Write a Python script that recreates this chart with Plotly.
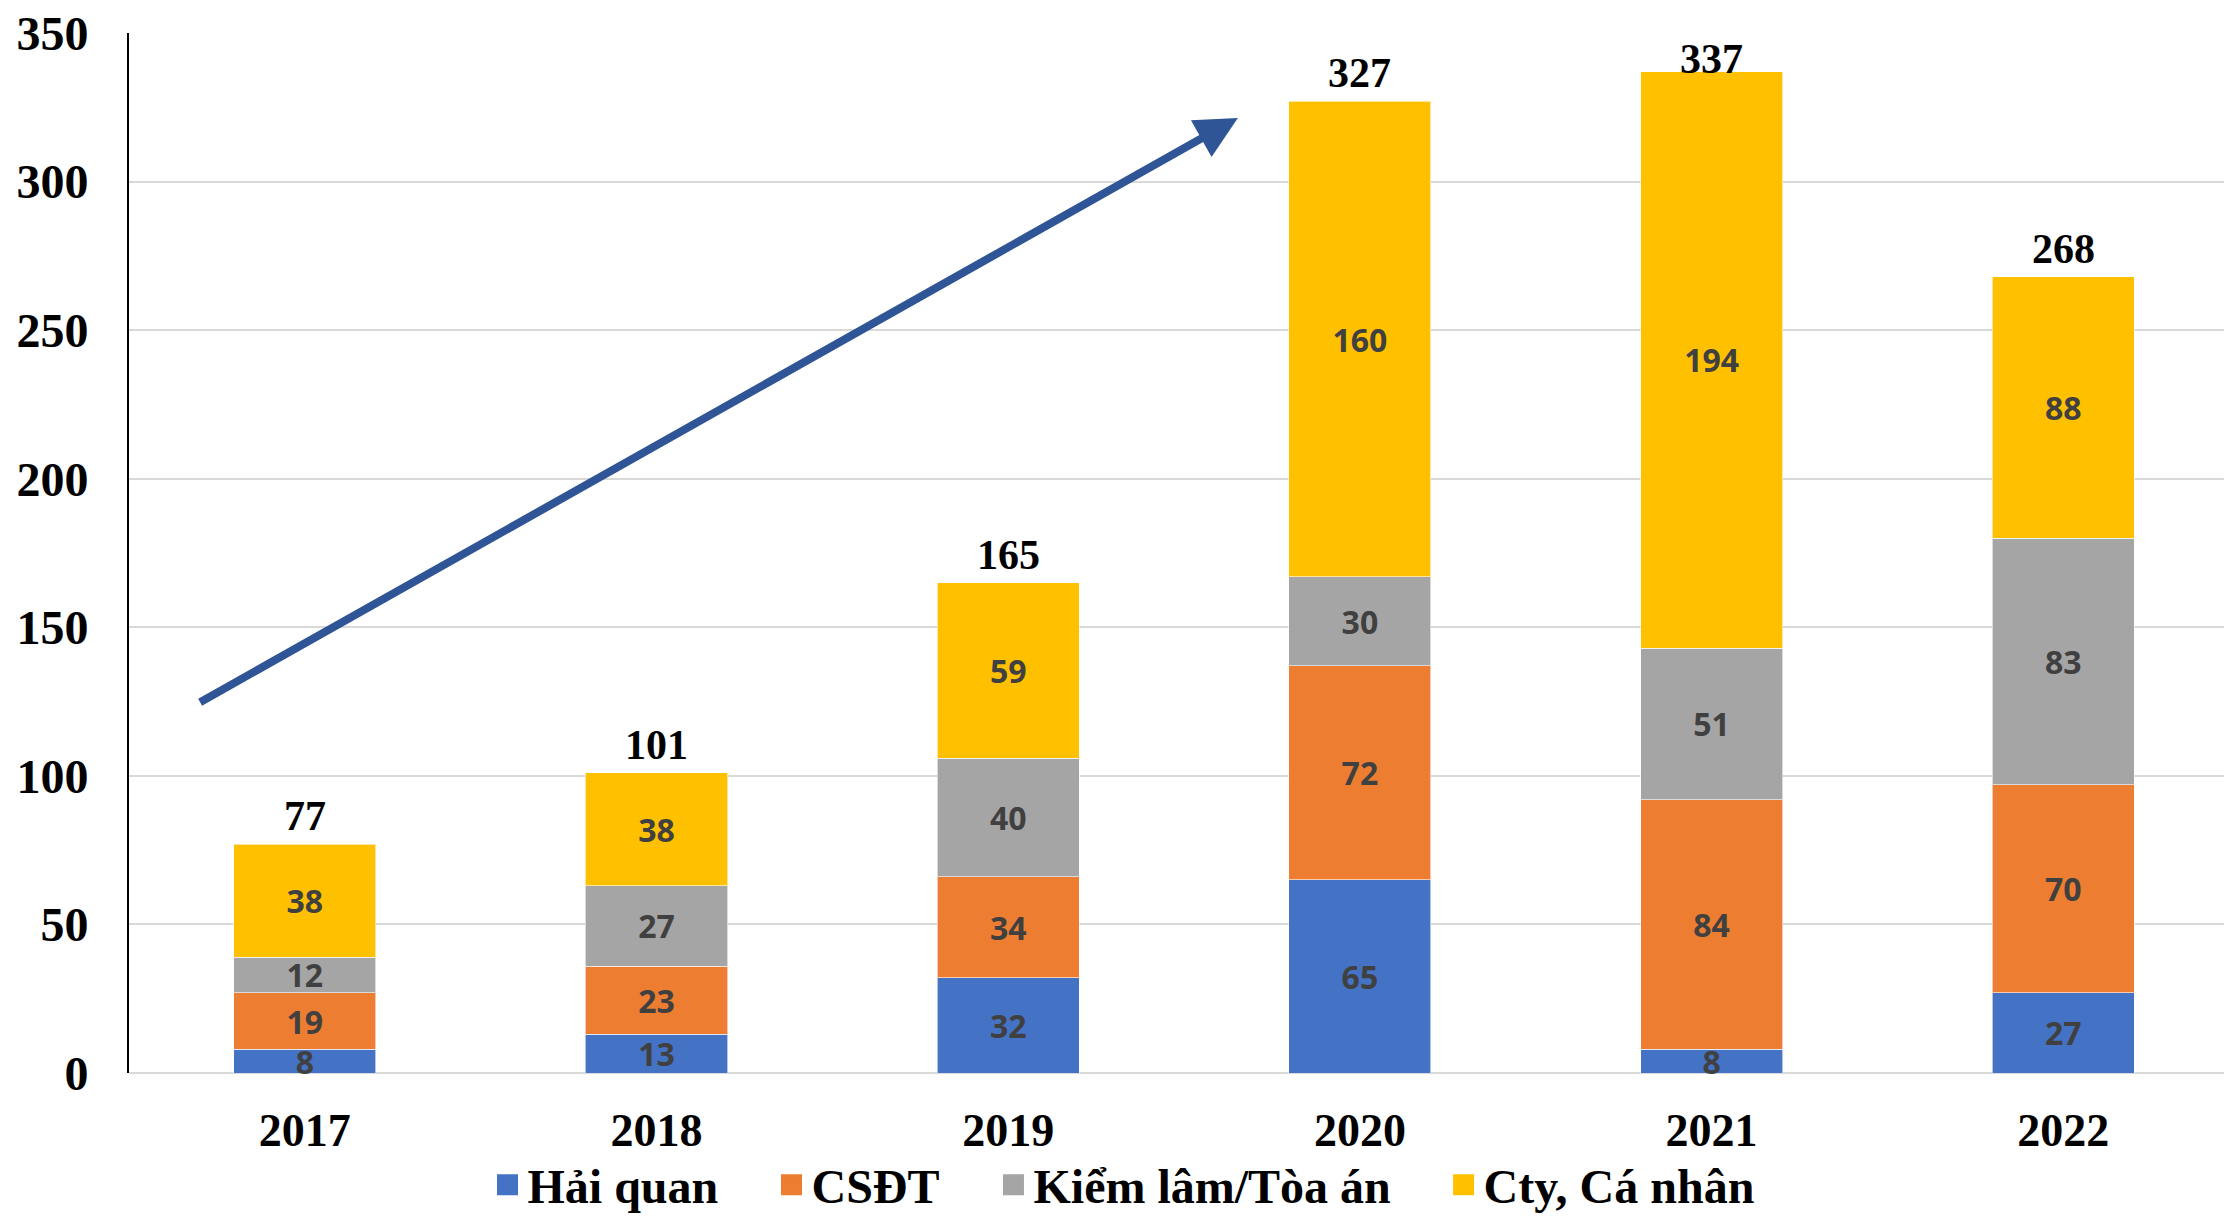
import plotly.graph_objects as go

years = ["2017", "2018", "2019", "2020", "2021", "2022"]
hai_quan = [8, 13, 32, 65, 8, 27]
csdt = [19, 23, 34, 72, 84, 70]
kiem_lam = [12, 27, 40, 30, 51, 83]
cty = [38, 38, 59, 160, 194, 88]
totals = [77, 101, 165, 327, 337, 268]

series = [
    ("Hải quan", hai_quan, "#4472C4"),
    ("CSĐT", csdt, "#ED7D31"),
    ("Kiểm lâm/Tòa án", kiem_lam, "#A5A5A5"),
    ("Cty, Cá nhân", cty, "#FFC000"),
]
legend_x = [0.2192, 0.3469, 0.4467, 0.6491]

serif = "Liberation Serif, Times New Roman, serif"
label_font = dict(family="Noto Sans, Calibri, sans-serif", size=32, color="#404040", weight="bold")

Y_MAX = 350

fig = go.Figure()
for name, vals, color in series:
    fig.add_trace(go.Bar(
        x=years, y=vals, name=name, showlegend=False,
        marker=dict(color=color, line=dict(color="rgba(255,255,255,0.6)", width=1)),
        text=[str(v) for v in vals], textposition="inside", insidetextanchor="middle",
        textangle=0, textfont=label_font, cliponaxis=False,
    ))

# legend entries (larger square swatches), each in its own legend for spacing
legend_names = ["legend", "legend2", "legend3", "legend4"]
for (name, vals, color), lg in zip(series, legend_names):
    fig.add_trace(go.Scatter(
        x=[years[0]], y=[None], mode="markers", name=name, hoverinfo="skip",
        legend=lg,
        marker=dict(symbol="square", size=16, color=color, line=dict(color=color, width=5)),
    ))

# stacked totals above each bar (pushed down when near the top of the plot area)
for i, t in enumerate(totals):
    shift = 3 if t < Y_MAX - 20 else -12
    fig.add_annotation(x=i, y=t, text=str(t), showarrow=False, yanchor="bottom", yshift=shift,
                       font=dict(family=serif, size=42, color="black", weight="bold"))

fig.add_annotation(
    x=2.653, y=321.4, ax=-0.302, ay=124.5, xref="x", yref="y", axref="x", ayref="y",
    showarrow=True, arrowhead=2, arrowsize=1.05, arrowwidth=8, arrowcolor="#2F5597", text="",
)

legend_common = dict(orientation="h", xanchor="left", yanchor="middle", y=0.0263,
                     xref="container", yref="container", bgcolor="rgba(0,0,0,0)",
                     font=dict(family=serif, size=48, color="black", weight="bold"),
                     itemwidth=30, itemsizing="trace")
layout_legends = {}
for lg, lx in zip(legend_names, legend_x):
    layout_legends[lg] = dict(legend_common, x=lx)

fig.update_layout(
    width=2224, height=1217,
    margin=dict(l=129, r=0, t=33, b=144, autoexpand=False),
    barmode="stack", bargap=0.596,
    plot_bgcolor="white", paper_bgcolor="white",
    uniformtext=dict(minsize=32, mode="show"),
    xaxis=dict(type="category", range=[-0.5, 5.457], showline=False, ticks="",
               automargin=False,
               tickfont=dict(family=serif, size=46, color="black", weight="bold"),
               ticklabelstandoff=26),
    yaxis=dict(range=[0, Y_MAX], dtick=50, showgrid=True, gridcolor="#D9D9D9", gridwidth=2,
               showline=True, linecolor="black", linewidth=2, zeroline=True,
               zerolinecolor="#D9D9D9", zerolinewidth=2, ticks="", automargin=False,
               tickfont=dict(family=serif, size=48, color="black", weight="bold"),
               ticklabelstandoff=29),
    **layout_legends,
)

fig.write_html("out.html", config={"displayModeBar": False},
               post_script="document.body.style.margin='0';")
